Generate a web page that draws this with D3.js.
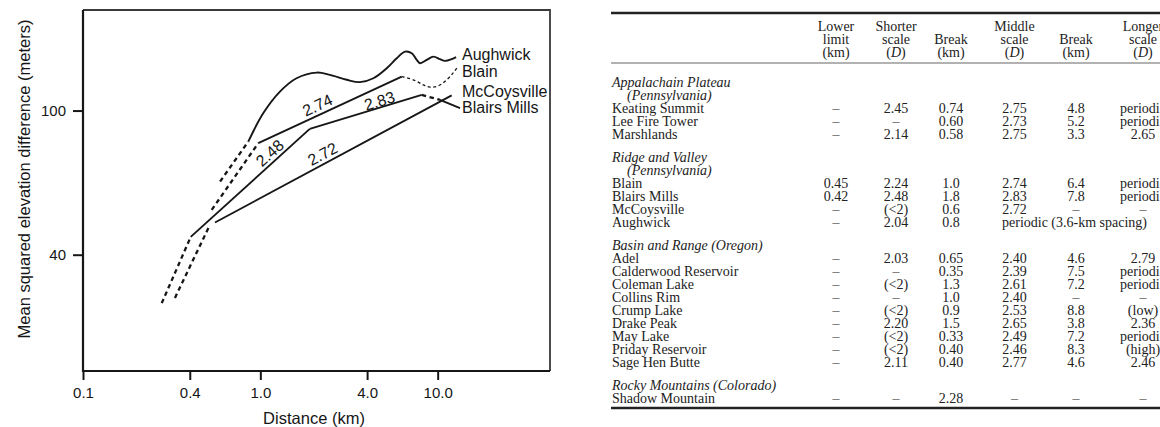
<!DOCTYPE html>
<html>
<head>
<meta charset="utf-8">
<script src="https://cdn.jsdelivr.net/npm/d3@7"></script>
<style>
  html, body { margin: 0; padding: 0; background: #fff; overflow: hidden; }
  svg { display: block; }
</style>
</head>
<body>
<svg id="fig" width="1160" height="427"></svg>
<script>
// ---- Variogram traces: [distance (km), mean squared elevation difference (m)] ----
const aughwickShort   = [[0.593, 63.7], [0.855, 82.1]];
const aughwickLong    = [[0.855, 82.1], [1.04, 98.4], [1.29, 112.8], [1.6, 122.8], [2.08, 127.3],
                         [2.47, 125.5], [3.07, 121.6], [3.65, 119.8], [4.34, 122.8], [5.16, 130.9],
                         [5.88, 139.5], [6.55, 145.4], [7.14, 144.0], [7.62, 138.0], [7.96, 135.1],
                         [8.68, 138.0], [9.46, 140.9], [10.3, 138.6], [11.0, 137.1], [12.0, 138.6],
                         [12.7, 140.4]];
const blainShort      = [[0.532, 53.2], [0.974, 81.3]];
const blainMiddle     = [[0.974, 81.3], [6.27, 124.1]];
const blainTail       = [[6.27, 124.1], [7.29, 121.6], [8.31, 117.7], [9.06, 116.0], [10.09, 117.0],
                         [11.26, 121.6], [12.27, 127.3], [12.82, 130.9]];
const blairsLow       = [[0.278, 29.4], [0.405, 44.8]];
const blairsShort     = [[0.405, 44.8], [1.9, 89.0]];
const blairsMiddle    = [[1.9, 89.0], [8.13, 110.5]];
const blairsTail      = [[8.13, 110.5], [10.3, 107.0]];
const blairsLeader    = [[10.3, 107.0], [13.37, 101.5]];
const mccoysShort     = [[0.33, 30.4], [0.52, 48.4]];
const mccoysMiddle    = [[0.555, 49.1], [12.0, 110.1]];

// Fractal dimensions written along the straight segments
const slopeLabels = ["2.74", "2.83", "2.48", "2.72"];
const seriesNames = ["Aughwick", "Blain", "McCoysville", "Blairs Mills"];

// Axis ticks
const xTicks = [0.1, 0.4, 1, 4, 10];
const xTickLabels = ["0.1", "0.4", "1.0", "4.0", "10.0"];
const yTicks = [40, 100];
const yTickLabels = ["40", "100"];

// ---- Table: fractal dimensions by site ----
const tableHeader = [
  ["Lower", "limit", "(km)"],
  ["Shorter", "scale", "(D)"],
  ["", "Break", "(km)"],
  ["Middle", "scale", "(D)"],
  ["", "Break", "(km)"],
  ["Longer", "scale", "(D)"]
];
const regions = [
  ["Appalachain Plateau", "(Pennsylvania)"],
  ["Ridge and Valley", "(Pennsylvania)"],
  ["Basin and Range (Oregon)"],
  ["Rocky Mountains (Colorado)"]
];
const sites = ["Keating Summit", "Lee Fire Tower", "Marshlands",
  "Blain", "Blairs Mills", "McCoysville", "Aughwick",
  "Adel", "Calderwood Reservoir", "Coleman Lake", "Collins Rim", "Crump Lake",
  "Drake Peak", "May Lake", "Priday Reservoir", "Sage Hen Butte",
  "Shadow Mountain"];
const siteRegion   = [0, 0, 0, 1, 1, 1, 1, 2, 2, 2, 2, 2, 2, 2, 2, 2, 3];
const lowerLimit   = ["–", "–", "–", "0.45", "0.42", "–", "–", "–", "–", "–", "–", "–", "–", "–", "–", "–", "–"];
const shorterScale = ["2.45", "–", "2.14", "2.24", "2.48", "(<2)", "2.04", "2.03", "–", "(<2)", "–", "(<2)", "2.20", "(<2)", "(<2)", "2.11", "–"];
const firstBreak   = ["0.74", "0.60", "0.58", "1.0", "1.8", "0.6", "0.8", "0.65", "0.35", "1.3", "1.0", "0.9", "1.5", "0.33", "0.40", "0.40", "2.28"];
const middleScale  = ["2.75", "2.73", "2.75", "2.74", "2.83", "2.72", "periodic (3.6-km spacing)", "2.40", "2.39", "2.61", "2.40", "2.53", "2.65", "2.49", "2.46", "2.77", "–"];
const secondBreak  = ["4.8", "5.2", "3.3", "6.4", "7.8", "–", null, "4.6", "7.5", "7.2", "–", "8.8", "3.8", "7.2", "8.3", "4.6", "–"];
const longerScale  = ["periodic", "periodic", "2.65", "periodic", "periodic", "–", null, "2.79", "periodic", "periodic", "–", "(low)", "2.36", "periodic", "(high)", "2.46", "–"];

// ---------------------------------------------------------------------------
const svg = d3.select("#fig");
const chartFont = "'Liberation Sans', Arial, Helvetica, sans-serif";
const tableFont = "'Liberation Serif', 'Times New Roman', serif";
const ink = "#161616";

const plot = { left: 83, right: 550, top: 10, bottom: 371 };
const x = d3.scaleLog().domain([0.1, 43]).range([plot.left, plot.right]);
const y = d3.scaleLog().domain([19.1, 189.5]).range([plot.bottom, plot.top]);

const chart = svg.append("g").attr("font-family", chartFont).attr("fill", ink);

// frame
chart.append("path")
  .attr("d", `M${plot.left},${plot.top}H${plot.right}V${plot.bottom}`)
  .attr("fill", "none").attr("stroke", "#3a3a3a").attr("stroke-width", 1.8);
chart.append("path")
  .attr("d", `M${plot.left},${plot.top}V${plot.bottom}H${plot.right}`)
  .attr("fill", "none").attr("stroke", ink).attr("stroke-width", 2.2);

// axes
const xAxis = chart.append("g")
  .attr("transform", `translate(0,${plot.bottom})`)
  .call(d3.axisBottom(x).tickValues(xTicks).tickFormat((d, i) => xTickLabels[i]).tickSize(9).tickPadding(7));
const yAxis = chart.append("g")
  .attr("transform", `translate(${plot.left},0)`)
  .call(d3.axisLeft(y).tickValues(yTicks).tickFormat((d, i) => yTickLabels[i]).tickSize(10).tickPadding(7));
[xAxis, yAxis].forEach(g => {
  g.select(".domain").remove();
  g.selectAll(".tick line").attr("stroke", ink).attr("stroke-width", 2);
  g.selectAll(".tick text").attr("fill", ink).attr("font-size", 15).attr("font-family", chartFont);
});

// axis titles
chart.append("text")
  .attr("x", 314).attr("y", 424)
  .attr("text-anchor", "middle").attr("font-size", 16.5)
  .text("Distance (km)");
chart.append("text")
  .attr("transform", "translate(30,179) rotate(-90)")
  .attr("text-anchor", "middle").attr("font-size", 16.5)
  .text("Mean squared elevation difference (meters)");

// traces
const straight = d3.line().x(d => x(d[0])).y(d => y(d[1]));
const smooth = d3.line().x(d => x(d[0])).y(d => y(d[1])).curve(d3.curveCatmullRom.alpha(0.5));

const styles = {
  solid:  { w: 1.9, dash: null },
  dashed: { w: 2.3, dash: "4.5,3.6" },
  dotted: { w: 1.3, dash: "3,2.6" }
};
const traces = [
  { data: aughwickShort, gen: straight, style: "dashed" },
  { data: aughwickLong,  gen: smooth,   style: "solid" },
  { data: blainShort,    gen: straight, style: "dashed" },
  { data: blainMiddle,   gen: straight, style: "solid" },
  { data: blainTail,     gen: smooth,   style: "dotted" },
  { data: blairsLow,     gen: straight, style: "dashed" },
  { data: blairsShort,   gen: straight, style: "solid" },
  { data: blairsMiddle,  gen: straight, style: "solid" },
  { data: blairsTail,    gen: straight, style: "dashed" },
  { data: blairsLeader,  gen: straight, style: "solid" },
  { data: mccoysShort,   gen: straight, style: "dashed" },
  { data: mccoysMiddle,  gen: straight, style: "solid" }
];
chart.append("g").selectAll("path").data(traces).join("path")
  .attr("d", t => t.gen(t.data))
  .attr("fill", "none")
  .attr("stroke", ink)
  .attr("stroke-width", t => styles[t.style].w)
  .attr("stroke-dasharray", t => styles[t.style].dash)
  .attr("stroke-linecap", "butt")
  .attr("stroke-linejoin", "round");

// dimension labels laid along their segments
const segLabels = [
  { seg: blainMiddle,  t: 0.44, off: 9.5, text: slopeLabels[0] },
  { seg: blairsMiddle, t: 0.64, off: 6.5, text: slopeLabels[1] },
  { seg: blairsShort,  t: 0.715, off: 9,  text: slopeLabels[2] },
  { seg: mccoysMiddle, t: 0.473, off: 9.5, text: slopeLabels[3] }
];
chart.append("g").selectAll("text").data(segLabels).join("text")
  .attr("transform", d => {
    const a = [x(d.seg[0][0]), y(d.seg[0][1])];
    const b = [x(d.seg[d.seg.length - 1][0]), y(d.seg[d.seg.length - 1][1])];
    const ang = Math.atan2(b[1] - a[1], b[0] - a[0]);
    const px = a[0] + d.t * (b[0] - a[0]) + d.off * Math.sin(ang);
    const py = a[1] + d.t * (b[1] - a[1]) - d.off * Math.cos(ang);
    return `translate(${px},${py}) rotate(${ang * 180 / Math.PI})`;
  })
  .attr("text-anchor", "middle").attr("dy", "0.35em").attr("font-size", 16)
  .text(d => d.text);

// site names at the right end of the traces
const nameBaselines = [60, 76.5, 96.8, 112.5];
chart.append("g").selectAll("text").data(seriesNames).join("text")
  .attr("x", 462).attr("y", (d, i) => nameBaselines[i])
  .attr("font-size", 16)
  .text(d => d);

// ---- table ----
const tbl = svg.append("g").attr("font-family", tableFont).attr("font-size", 14).attr("fill", "#222");
const tableLeft = 612, tableRight = 1160;
const colX = [836, 896, 951, 1014.5, 1076, 1143];
const ruleTop = 13, headerLines = [26, 39, 52], ruleHead = 63;
const regionGap = 10, pitch = 13, firstRegionY = 82;
const baseShift = 4.5;

tbl.append("line").attr("x1", tableLeft - 1).attr("x2", tableRight).attr("y1", ruleTop).attr("y2", ruleTop)
  .attr("stroke", "#222").attr("stroke-width", 2.6);
tbl.append("line").attr("x1", tableLeft - 1).attr("x2", tableRight).attr("y1", ruleHead).attr("y2", ruleHead)
  .attr("stroke", "#666").attr("stroke-width", 1.1);

tableHeader.forEach((col, ci) => {
  col.forEach((line, li) => {
    if (!line) return;
    const t = tbl.append("text").attr("x", colX[ci]).attr("y", headerLines[li] + baseShift).attr("text-anchor", "middle");
    if (line === "(D)") {
      t.append("tspan").text("(");
      t.append("tspan").attr("font-style", "italic").text("D");
      t.append("tspan").text(")");
    } else {
      t.text(line);
    }
  });
});

// lay out rows: region heading lines, then site rows
let cy = firstRegionY, lastRegion = -1;
const rowY = [];
sites.forEach((s, i) => {
  if (siteRegion[i] !== lastRegion) {
    if (lastRegion !== -1) cy += regionGap;
    regions[siteRegion[i]].forEach((line, li) => {
      tbl.append("text")
        .attr("x", li === 0 ? tableLeft : tableLeft + 15)
        .attr("y", cy + baseShift)
        .attr("font-style", "italic")
        .text(line);
      cy += pitch;
    });
    lastRegion = siteRegion[i];
  }
  rowY.push(cy);
  cy += pitch;
});
const ruleBottom = rowY[rowY.length - 1] + 10;
tbl.append("line").attr("x1", tableLeft - 1).attr("x2", tableRight).attr("y1", ruleBottom).attr("y2", ruleBottom)
  .attr("stroke", "#222").attr("stroke-width", 2.6);

const columns = [lowerLimit, shorterScale, firstBreak, middleScale, secondBreak, longerScale];
sites.forEach((s, i) => {
  tbl.append("text").attr("x", tableLeft).attr("y", rowY[i] + baseShift).text(s);
  columns.forEach((col, ci) => {
    const v = col[i];
    if (v === null) return;
    const spanning = ci === 3 && columns[4][i] === null;
    tbl.append("text")
      .attr("x", spanning ? colX[3] - 12.5 : colX[ci])
      .attr("y", rowY[i] + baseShift)
      .attr("text-anchor", spanning ? "start" : "middle")
      .attr("fill", v === "–" ? "#666" : null)
      .text(v);
  });
});
</script>
</body>
</html>
